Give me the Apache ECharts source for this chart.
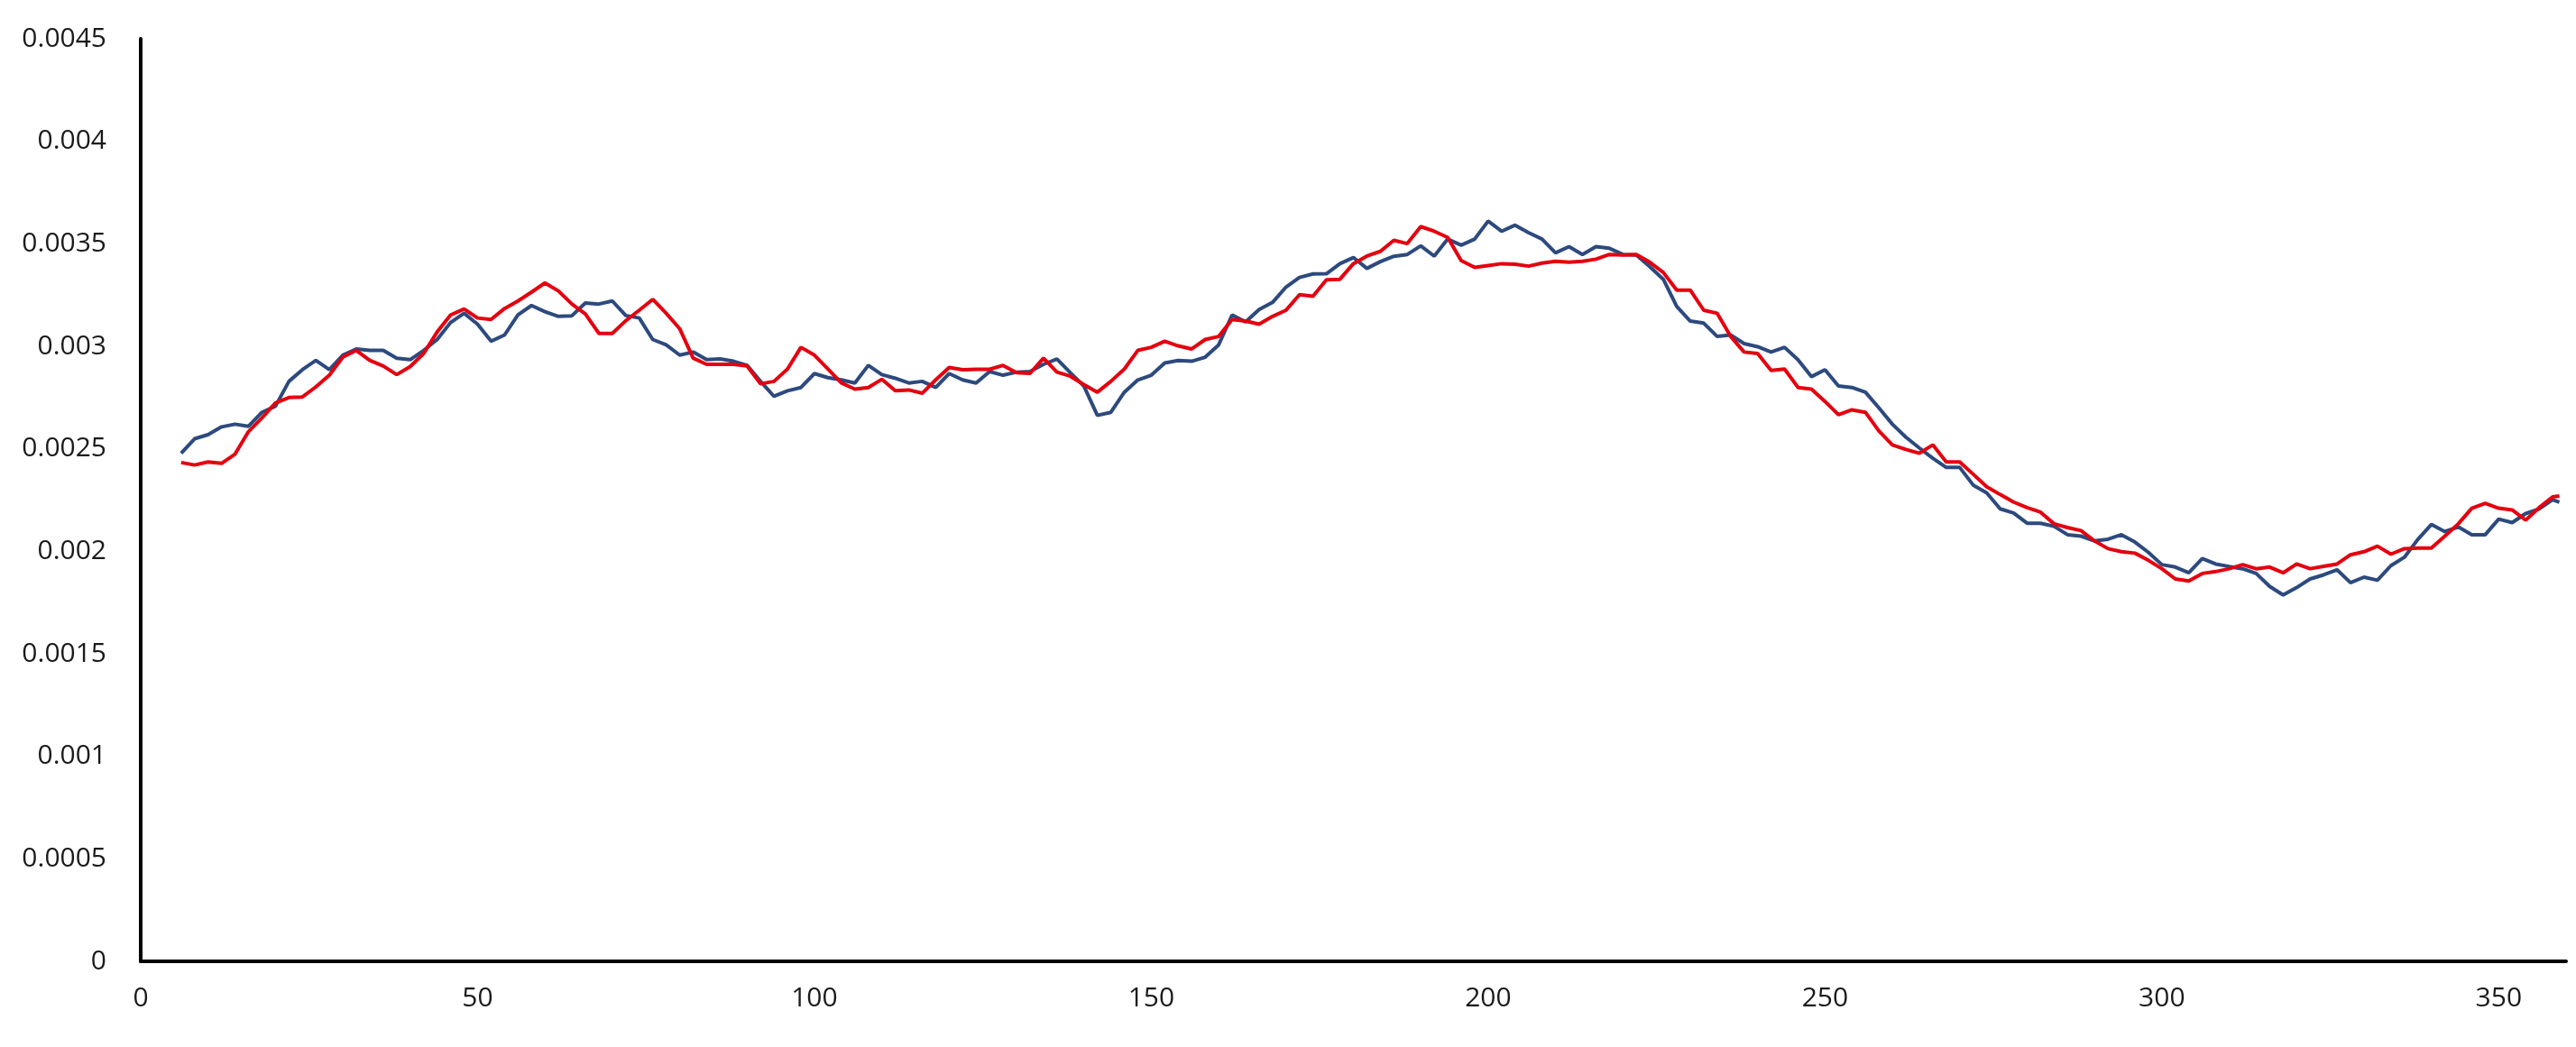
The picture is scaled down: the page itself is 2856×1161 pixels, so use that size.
<!DOCTYPE html>
<html>
<head>
<meta charset="utf-8">
<title>chart</title>
<script src="https://cdn.jsdelivr.net/npm/echarts@6/dist/echarts.min.js"></script>
<style>
  html, body { margin: 0; padding: 0; background: #fff; }
  #main { width: 2856px; height: 1161px; }
</style>
</head>
<body>
<div id="main"></div>
<script>
// x positions (day)
var xs = [
  6, 8, 10, 12, 14, 16, 18, 20, 22, 24,
  26, 28, 30, 32, 34, 36, 38, 40, 42, 44,
  46, 48, 50, 52, 54, 56, 58, 60, 62, 64,
  66, 68, 70, 72, 74, 76, 78, 80, 82, 84,
  86, 88, 90, 92, 94, 96, 98, 100, 102, 104,
  106, 108, 110, 112, 114, 116, 118, 120, 122, 124,
  126, 128, 130, 132, 134, 136, 138, 140, 142, 144,
  146, 148, 150, 152, 154, 156, 158, 160, 162, 164,
  166, 168, 170, 172, 174, 176, 178, 180, 182, 184,
  186, 188, 190, 192, 194, 196, 198, 200, 202, 204,
  206, 208, 210, 212, 214, 216, 218, 220, 222, 224,
  226, 228, 230, 232, 234, 236, 238, 240, 242, 244,
  246, 248, 250, 252, 254, 256, 258, 260, 262, 264,
  266, 268, 270, 272, 274, 276, 278, 280, 282, 284,
  286, 288, 290, 292, 294, 296, 298, 300, 302, 304,
  306, 308, 310, 312, 314, 316, 318, 320, 322, 324,
  326, 328, 330, 332, 334, 336, 338, 340, 342, 344,
  346, 348, 350, 352, 354, 356, 358, 359
];

// dark blue series
var blueValues = [
  0.002478, 0.002549, 0.002569, 0.002607, 0.002620, 0.002610, 0.002678, 0.002708, 0.002829, 0.002886,
  0.002931, 0.002886, 0.002957, 0.002987, 0.002980, 0.002980, 0.002942, 0.002935, 0.002980, 0.003033,
  0.003116, 0.003161, 0.003108, 0.003025, 0.003055, 0.003153, 0.003199, 0.003169, 0.003146, 0.003149,
  0.003211, 0.003206, 0.003221, 0.003150, 0.003138, 0.003033, 0.003007, 0.002957, 0.002972, 0.002935,
  0.002938, 0.002927, 0.002907, 0.002829, 0.002756, 0.002783, 0.002799, 0.002867, 0.002847, 0.002836,
  0.002821, 0.002907, 0.002862, 0.002844, 0.002821, 0.002829, 0.002799, 0.002867, 0.002836, 0.002821,
  0.002877, 0.002859, 0.002874, 0.002877, 0.002912, 0.002938, 0.002871, 0.002806, 0.002663, 0.002678,
  0.002776, 0.002836, 0.002859, 0.002919, 0.002931, 0.002927, 0.002947, 0.003007, 0.003153, 0.003119,
  0.003179, 0.003214, 0.003289, 0.003336, 0.003353, 0.003354, 0.003403, 0.003433, 0.003380, 0.003413,
  0.003439, 0.003448, 0.003490, 0.003440, 0.003523, 0.003493, 0.003523, 0.003611, 0.003561, 0.003591,
  0.003554, 0.003523, 0.003456, 0.003486, 0.003448, 0.003486, 0.003478, 0.003448, 0.003445, 0.003388,
  0.003327, 0.003194, 0.003123, 0.003113, 0.003048, 0.003055, 0.003013, 0.002998, 0.002972, 0.002995,
  0.002934, 0.002852, 0.002886, 0.002806, 0.002799, 0.002776, 0.002700, 0.002620, 0.002557, 0.002504,
  0.002454, 0.002409, 0.002409, 0.002323, 0.002285, 0.002207, 0.002187, 0.002137, 0.002137, 0.002122,
  0.002081, 0.002074, 0.002051, 0.002059, 0.002081, 0.002045, 0.001995, 0.001935, 0.001923, 0.001895,
  0.001965, 0.001938, 0.001926, 0.001915, 0.001892, 0.001829, 0.001787, 0.001823, 0.001865, 0.001885,
  0.001910, 0.001847, 0.001874, 0.001859, 0.001930, 0.001971, 0.002058, 0.002131, 0.002096, 0.002119,
  0.002081, 0.002081, 0.002157, 0.002140, 0.002184, 0.002207, 0.002252, 0.002240
];

// red series
var redValues = [
  0.002433, 0.002421, 0.002436, 0.002429, 0.002474, 0.002584, 0.002651, 0.002723, 0.002750, 0.002753,
  0.002802, 0.002859, 0.002947, 0.002980, 0.002931, 0.002904, 0.002862, 0.002901, 0.002965, 0.003070,
  0.003153, 0.003182, 0.003138, 0.003131, 0.003184, 0.003221, 0.003264, 0.003309, 0.003270, 0.003206,
  0.003158, 0.003063, 0.003063, 0.003125, 0.003176, 0.003229, 0.003161, 0.003086, 0.002942, 0.002912,
  0.002912, 0.002912, 0.002904, 0.002817, 0.002829, 0.002889, 0.002995, 0.002957, 0.002889, 0.002821,
  0.002791, 0.002799, 0.002839, 0.002783, 0.002787, 0.002771, 0.002836, 0.002897, 0.002886, 0.002888,
  0.002888, 0.002907, 0.002871, 0.002868, 0.002942, 0.002874, 0.002854, 0.002813, 0.002776, 0.002829,
  0.002889, 0.002980, 0.002995, 0.003025, 0.003002, 0.002987, 0.003033, 0.003048, 0.003131, 0.003123,
  0.003108, 0.003146, 0.003176, 0.003252, 0.003244, 0.003324, 0.003327, 0.003403, 0.003440, 0.003463,
  0.003517, 0.003501, 0.003584, 0.003561, 0.003531, 0.003418, 0.003385, 0.003394, 0.003403, 0.003400,
  0.003391, 0.003406, 0.003415, 0.003410, 0.003415, 0.003425, 0.003448, 0.003445, 0.003448, 0.003410,
  0.003360, 0.003274, 0.003274, 0.003176, 0.003161, 0.003048, 0.002972, 0.002965, 0.002882, 0.002889,
  0.002799, 0.002791, 0.002731, 0.002666, 0.002690, 0.002678, 0.002587, 0.002519, 0.002497, 0.002478,
  0.002519, 0.002436, 0.002436, 0.002376, 0.002315, 0.002277, 0.002240, 0.002213, 0.002191, 0.002134,
  0.002116, 0.002101, 0.002051, 0.002013, 0.001998, 0.001991, 0.001956, 0.001915, 0.001865, 0.001855,
  0.001892, 0.001901, 0.001915, 0.001935, 0.001915, 0.001923, 0.001895, 0.001938, 0.001915, 0.001927,
  0.001938, 0.001983, 0.001998, 0.002025, 0.001986, 0.002013, 0.002016, 0.002016, 0.002074, 0.002134,
  0.002210, 0.002234, 0.002210, 0.002202, 0.002152, 0.002213, 0.002265, 0.002270
];

var xTicks = [0, 360, 50];          // min, max, step
var yTicks = [0, 0.0045, 0.0005];   // min, max, step

function pairs(values) {
  return xs.map(function (x, i) { return [x, values[i]]; });
}

var chart = echarts.init(document.getElementById('main'));

var labelStyle = {
  color: '#1a1a1a',
  fontSize: 30,
  fontFamily: 'Open Sans'
};

var option = {
  animation: false,
  backgroundColor: '#ffffff',
  grid: {
    left: 156,
    right: 11,
    top: 43,
    bottom: 95
  },
  xAxis: {
    type: 'value',
    min: xTicks[0],
    max: xTicks[1],
    interval: xTicks[2],
    axisLine: { show: true, lineStyle: { color: '#000', width: 4 } },
    axisTick: { show: false },
    splitLine: { show: false },
    axisLabel: Object.assign({ margin: 26, showMaxLabel: false }, labelStyle)
  },
  yAxis: {
    type: 'value',
    min: yTicks[0],
    max: yTicks[1],
    interval: yTicks[2],
    axisLine: { show: true, lineStyle: { color: '#000', width: 4 } },
    axisTick: { show: false },
    splitLine: { show: false },
    axisLabel: Object.assign({ margin: 38 }, labelStyle)
  },
  series: [
    {
      name: 'blue',
      type: 'line',
      data: pairs(blueValues),
      showSymbol: false,
      lineStyle: { color: '#2D4A7E', width: 4 },
      itemStyle: { color: '#2D4A7E' }
    },
    {
      name: 'red',
      type: 'line',
      data: pairs(redValues),
      showSymbol: false,
      lineStyle: { color: '#E4000F', width: 4 },
      itemStyle: { color: '#E4000F' }
    }
  ]
};

chart.setOption(option);
</script>
</body>
</html>
